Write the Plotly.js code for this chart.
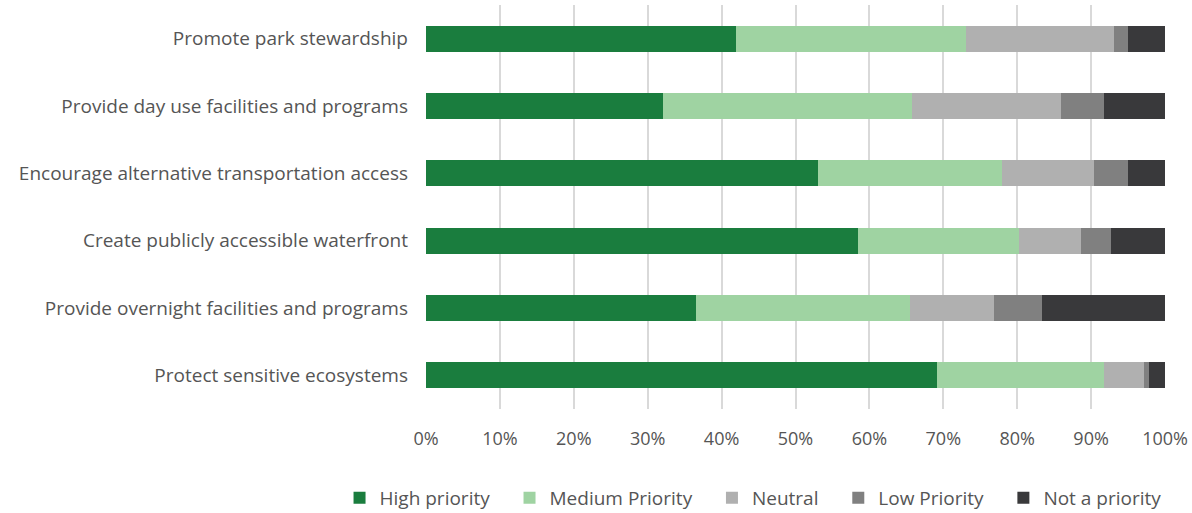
<!DOCTYPE html>
<html>
<head>
<meta charset="utf-8">
<script src="https://cdn.plot.ly/plotly-3.0.1.min.js"></script>
<style>html,body{margin:0;padding:0;background:#fff;}#chart{width:1192px;height:513px;}</style>
</head>
<body>
<div id="chart"></div>
<script>
const categories = [
  "Promote park stewardship",
  "Provide day use facilities and programs",
  "Encourage alternative transportation access",
  "Create publicly accessible waterfront",
  "Provide overnight facilities and programs",
  "Protect sensitive ecosystems"
];
const highPriority   = [41.9, 32.1, 53.0, 58.5, 36.6, 69.2];
const mediumPriority = [31.2, 33.6, 25.0, 21.8, 28.9, 22.5];
const neutral        = [20.0, 20.2, 12.4,  8.4, 11.3,  5.4];
const lowPriority    = [ 1.9,  5.8,  4.6,  4.0,  6.6,  0.7];
const notPriority    = [ 5.0,  8.3,  5.0,  7.3, 16.6,  2.2];
const seriesNames = ["High priority", "Medium Priority", "Neutral", "Low Priority", "Not a priority"];
const tickVals = [0,10,20,30,40,50,60,70,80,90,100];
const tickText = ["0%","10%","20%","30%","40%","50%","60%","70%","80%","90%","100%"];

const colors = ["#1a7d3e", "#9fd3a2", "#b0b0b0", "#808080", "#39393b"];
const allSeries = [highPriority, mediumPriority, neutral, lowPriority, notPriority];
const pad = "\u00a0\u00a0\u00a0";

const traces = allSeries.map((vals, i) => ({
  type: "bar",
  orientation: "h",
  name: seriesNames[i] + (i < allSeries.length - 1 ? pad : ""),
  x: vals,
  y: categories,
  marker: {color: colors[i], line: {width: 0}},
  width: 0.39,
  hoverinfo: "x+name"
}));

const layout = {
  width: 1192,
  height: 513,
  barmode: "stack",
  paper_bgcolor: "#fff",
  plot_bgcolor: "#fff",
  margin: {l: 426, r: 27, t: 5, b: 104, autoexpand: false},
  font: {family: "'Open Sans', Lato, sans-serif", color: "#555555", size: 19},
  showlegend: true,
  legend: {
    orientation: "h",
    x: -0.117, xanchor: "left",
    y: -0.22, yanchor: "middle",
    font: {size: 19, color: "#555555"},
    traceorder: "normal",
    itemwidth: 30
  },
  xaxis: {
    range: [0, 100],
    tickvals: tickVals,
    ticktext: tickText,
    showgrid: true,
    gridcolor: "#d9d9d9",
    gridwidth: 2,
    zeroline: false,
    showline: false,
    ticks: "",
    ticklabelstandoff: 17,
    tickfont: {size: 18, color: "#555555"},
    fixedrange: true
  },
  yaxis: {
    categoryorder: "array",
    categoryarray: categories.slice().reverse(),
    autorange: false,
    range: [-0.5, 5.5],
    showgrid: false,
    zeroline: false,
    showline: false,
    ticks: "",
    ticklabelstandoff: 17,
    tickfont: {size: 19, color: "#555555"},
    fixedrange: true
  }
};

Plotly.newPlot("chart", traces, layout, {displayModeBar: false, staticPlot: true});
</script>
</body>
</html>
